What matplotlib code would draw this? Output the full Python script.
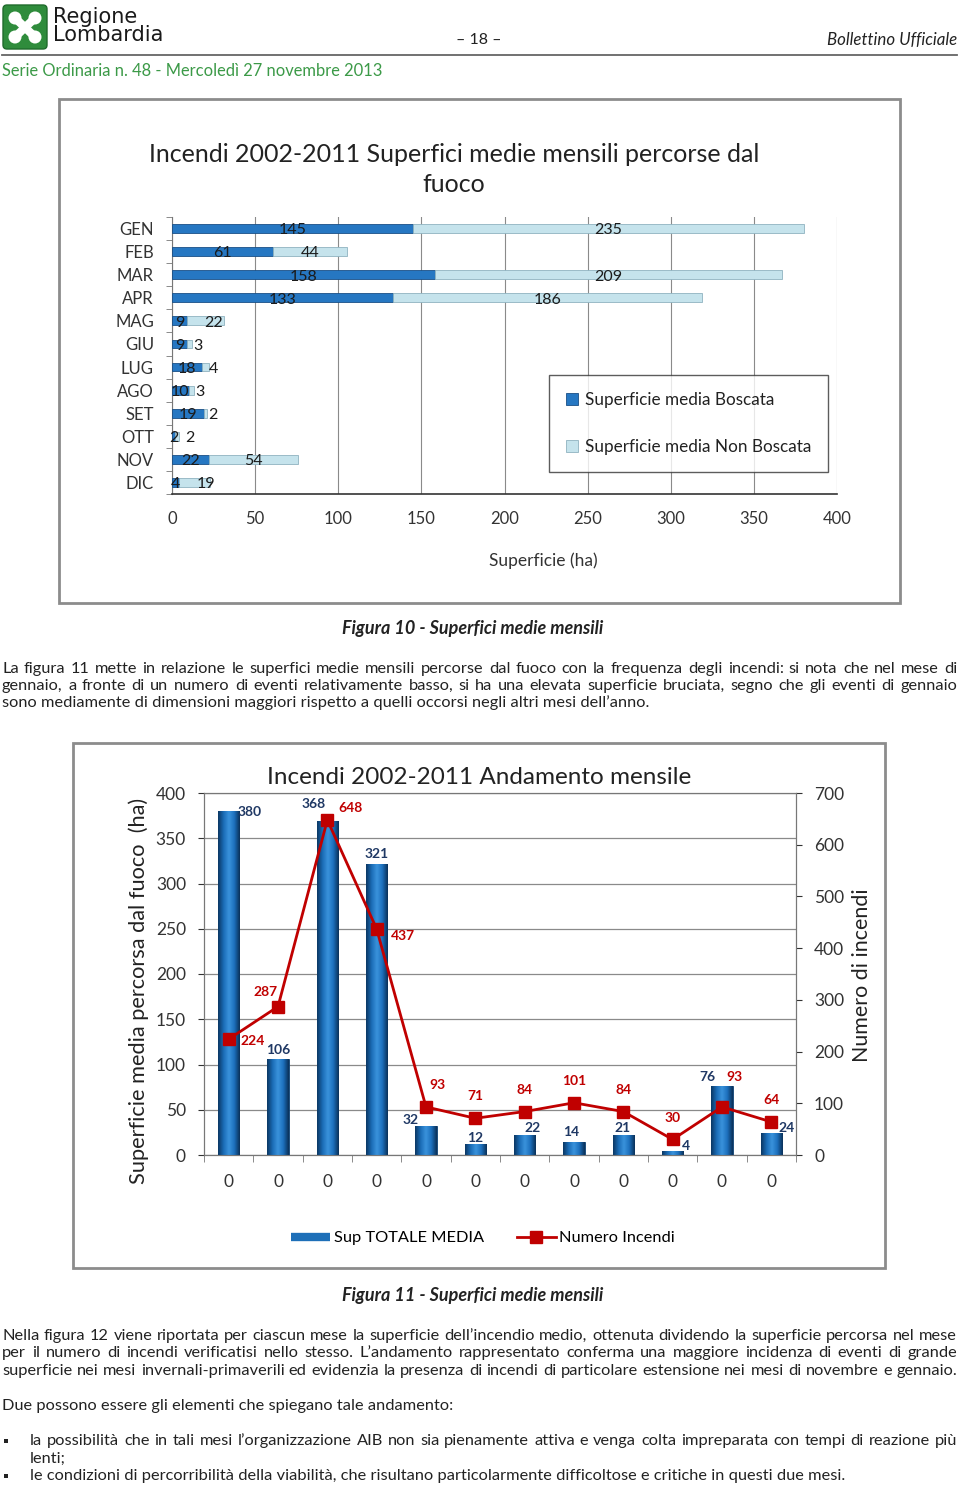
import matplotlib
matplotlib.use("Agg")
import matplotlib.pyplot as plt
import matplotlib.patches as mpatches
from matplotlib.lines import Line2D
from matplotlib.colors import LinearSegmentedColormap
import numpy as np

mesi = ["GEN", "FEB", "MAR", "APR", "MAG", "GIU", "LUG", "AGO", "SET", "OTT", "NOV", "DIC"]
sup_boscata = [145, 61, 158, 133, 9, 9, 18, 10, 19, 2, 22, 4]
sup_non_boscata = [235, 44, 209, 186, 22, 3, 4, 3, 2, 2, 54, 19]
sup_totale_media = [380, 106, 368, 321, 32, 12, 22, 14, 21, 4, 76, 24]
numero_incendi = [224, 287, 648, 437, 93, 71, 84, 101, 84, 30, 93, 64]
etichette_x_fig11 = ["0"] * 12
xticks_fig10 = list(range(0, 401, 50))
yticks_sup = list(range(0, 401, 50))
yticks_num = list(range(0, 701, 100))

W, H = 960, 1488
CHART_FONT = ["Lato", "DejaVu Sans"]
BODY_FONT = ["Lato", "DejaVu Sans"]
BODY_SIZE = 11.8
TXT = "#222222"
BLU = "#1D6FB8"
ROSSO = "#C00000"


def rect(x0, y0, x1, y1):
    return [x0 / W, 1 - y1 / H, (x1 - x0) / W, (y1 - y0) / H]


def fx(x):
    return x / W


def fy(y):
    return 1 - y / H


fig = plt.figure(figsize=(W / 100, H / 100), dpi=100)
fig.patch.set_facecolor("white")
renderer = fig.canvas.get_renderer()


def frame(x0, y0, x1, y1):
    fig.patches.append(mpatches.Rectangle((fx(x0), fy(y1)), (x1 - x0) / W, (y1 - y0) / H,
                                          transform=fig.transFigure, fill=False,
                                          ec="#8c8c8c", lw=2))


def justify(text, y, x0, x1, size=BODY_SIZE):
    words = text.split()
    objs = [fig.text(0, fy(y), w, fontsize=size, va="center", family=BODY_FONT, color=TXT)
            for w in words]
    widths = [o.get_window_extent(renderer).width for o in objs]
    gap = (x1 - x0 - sum(widths)) / (len(words) - 1)
    x = x0
    for o, w in zip(objs, widths):
        o.set_x(fx(x))
        x += w + gap


def plain(text, y, x0, size=BODY_SIZE, **kw):
    fig.text(fx(x0), fy(y), text, fontsize=size, va="center", family=BODY_FONT, color=TXT, **kw)


# --- intestazione ---
ax_logo = fig.add_axes(rect(2, 4, 48, 50))
ax_logo.set_xlim(0, 46)
ax_logo.set_ylim(46, 0)
ax_logo.axis("off")
ax_logo.add_patch(mpatches.FancyBboxPatch((1, 1), 44, 44, boxstyle="round,pad=0,rounding_size=4",
                                          fc="#2F8C3C", ec="#1f6b2b", lw=1))
for cx, cy in [(13, 14), (33, 14), (13, 33), (33, 33)]:
    ax_logo.add_patch(mpatches.Circle((cx, cy), 6.5, fc="white", ec="none"))
ax_logo.plot([13, 33], [14, 33], color="white", lw=6, solid_capstyle="round")
ax_logo.plot([33, 13], [14, 33], color="white", lw=6, solid_capstyle="round")
ax_logo.add_patch(mpatches.Circle((23, 23.5), 4, fc="#2F8C3C", ec="none"))

fig.text(fx(53), fy(17), "Regione", fontsize=15, va="center", color="#1a1a1a",
         family="DejaVu Sans", weight="medium")
fig.text(fx(53), fy(35), "Lombardia", fontsize=15, va="center", color="#1a1a1a",
         family="DejaVu Sans", weight="medium")
fig.text(fx(479), fy(40), "– 18 –", fontsize=11.5, ha="center", va="center", color=TXT, family=BODY_FONT)
fig.text(fx(957), fy(40), "Bollettino Ufficiale", fontsize=12.2, ha="right", va="center",
         style="italic", color=TXT, family=BODY_FONT)
fig.add_artist(Line2D([fx(2), fx(957)], [fy(55), fy(55)], color="#666666", lw=1.3))
fig.text(fx(2), fy(71), "Serie Ordinaria n. 48 - Mercoledì 27 novembre 2013", fontsize=11.9,
         va="center", color="#3C9A48", family=BODY_FONT)

# --- Figura 10 ---
frame(59, 99, 900, 603)
fig.text(fx(454), fy(155), "Incendi 2002-2011 Superfici medie mensili percorse dal",
         ha="center", va="center", fontsize=18, color=TXT, family=CHART_FONT)
fig.text(fx(454), fy(185), "fuoco",
         ha="center", va="center", fontsize=18, color=TXT, family=CHART_FONT)

ax1 = fig.add_axes(rect(172, 217, 837, 494))
y = np.arange(len(mesi))
ax1.barh(y, sup_boscata, height=0.38, color="#2677C2", edgecolor="#1a4f86", lw=0.6,
         label="Superficie media Boscata", zorder=3)
ax1.barh(y, sup_non_boscata, left=sup_boscata, height=0.38, color="#C5E3EC", edgecolor="#8fb3c0",
         lw=0.6, label="Superficie media Non Boscata", zorder=3)
# piccolo spostamento a destra delle etichette "Non Boscata" sui segmenti corti (px)
off_nb = [0, 0, 0, 0, 8, 8, 8, 9, 8, 13, 0, 12]
for i, (b, n) in enumerate(zip(sup_boscata, sup_non_boscata)):
    ax1.annotate(str(b), (b / 2, i + 0.08), ha="center", va="center", fontsize=11.5, color="#1b1b1b",
                 family=CHART_FONT, zorder=4)
    ax1.annotate(str(n), (b + n / 2, i + 0.08), xytext=(off_nb[i] * 0.72, 0), textcoords="offset points",
                 ha="center", va="center", fontsize=11.5, color="#1b1b1b", family=CHART_FONT, zorder=4)
ax1.set_xlim(0, 400)
ax1.set_ylim(11.5, -0.5)
ax1.set_xticks(xticks_fig10)
ax1.set_xticklabels([str(v) for v in xticks_fig10], family=CHART_FONT)
ax1.set_yticks(y)
ax1.set_yticklabels(mesi, family=CHART_FONT)
ax1.set_yticks(np.arange(-0.5, 12, 1), minor=True)
ax1.tick_params(axis="x", length=0, pad=12, labelsize=12, colors="#333333")
ax1.tick_params(axis="y", which="major", length=0, pad=13, labelsize=12, colors="#333333")
ax1.tick_params(axis="y", which="minor", length=4, color="#777777")
ax1.xaxis.grid(True, color="#8a8a8a", lw=0.8)
ax1.set_axisbelow(True)
for s in ["top", "right"]:
    ax1.spines[s].set_visible(False)
ax1.spines["left"].set_color("#777777")
ax1.spines["bottom"].set_color("#333333")
ax1.spines["bottom"].set_linewidth(1.2)
fig.text(fx(543), fy(561), "Superficie (ha)", ha="center", va="center", fontsize=12.5,
         color="#333333", family=CHART_FONT)
leg = ax1.legend(loc="upper left", bbox_to_anchor=(fx(549), fy(375)), bbox_transform=fig.transFigure,
                 frameon=True, fancybox=False, edgecolor="#333333", prop={"family": CHART_FONT, "size": 12.3},
                 labelspacing=1.8, handlelength=0.7, handleheight=0.7, borderpad=1.0, handletextpad=0.4,
                 borderaxespad=0)
leg.get_frame().set_linewidth(1)
for t in leg.get_texts():
    t.set_color(TXT)

fig.text(fx(473), fy(628), "Figura 10 - Superfici medie mensili", ha="center", va="center",
         fontsize=13, style="italic", weight="bold", color=TXT, family=BODY_FONT)

justify("La figura 11 mette in relazione le superfici medie mensili percorse dal fuoco con la "
        "frequenza degli incendi: si nota che nel mese di", 669, 2, 957)
justify("gennaio, a fronte di un numero di eventi relativamente basso, si ha una elevata superficie "
        "bruciata, segno che gli eventi di gennaio", 686, 2, 957)
plain("sono mediamente di dimensioni maggiori rispetto a quelli occorsi negli altri mesi dell’anno.", 703, 2)

# --- Figura 11 ---
frame(73, 743, 885, 1268)
fig.text(fx(479), fy(777), "Incendi 2002-2011 Andamento mensile", ha="center", va="center",
         fontsize=17.5, color=TXT, family=CHART_FONT)

ax2 = fig.add_axes(rect(204, 793, 796, 1155))
x = np.arange(len(mesi))
bw = 0.43
ax2.bar(x, sup_totale_media, width=bw, color=BLU, edgecolor="#0f3f6e", lw=0.6, zorder=3)
# effetto cilindro sulle colonne
cyl = LinearSegmentedColormap.from_list("cyl", ["#0b3763", "#1a6cb6", "#3a93dc", "#1c70bd", "#0a3058"])
grad = np.linspace(0, 1, 64).reshape(1, -1)
for xi, v in zip(x, sup_totale_media):
    ax2.imshow(grad, extent=[xi - bw / 2, xi + bw / 2, 0, v], aspect="auto", cmap=cyl,
               interpolation="bicubic", zorder=3.5)
ax2.set_xlim(-0.5, 11.5)
ax2.set_ylim(0, 400)
ax2.set_yticks(yticks_sup)
ax2.set_yticklabels([str(v) for v in yticks_sup], family=CHART_FONT)
ax2.set_xticks(x)
ax2.set_xticklabels(etichette_x_fig11, family=CHART_FONT)
ax2.set_xticks(np.arange(-0.5, 12, 1), minor=True)
ax2.tick_params(axis="x", which="major", length=0, pad=14, labelsize=12.5, colors="#333333")
ax2.tick_params(axis="x", which="minor", length=5, color="#777777")
ax2.tick_params(axis="y", length=4, pad=9, labelsize=12.5, colors="#333333")
ax2.yaxis.grid(True, color="#8a8a8a", lw=0.9)
ax2.set_axisbelow(True)
for s in ax2.spines.values():
    s.set_color("#777777")

ax2b = ax2.twinx()
ax2b.set_ylim(0, 700)
ax2b.set_yticks(yticks_num)
ax2b.set_yticklabels([str(v) for v in yticks_num], family=CHART_FONT)
ax2b.tick_params(axis="y", length=4, pad=9, labelsize=12.5, colors="#333333")
for s in ax2b.spines.values():
    s.set_color("#777777")
ax2b.plot(x, numero_incendi, color=ROSSO, lw=2, marker="s", ms=8, zorder=5)

# spostamenti delle etichette in pixel (dx, dy verso l'alto)
off_blu = [(21, -1), (0, 9), (-14, 18), (0, 10), (-15, 6), (0, 6), (8, 7), (-3, 10), (-1, 8),
           (13, 5), (-15, 9), (15, 5)]
off_rosso = [(24, -2), (-12, 15), (23, 12), (26, -7), (11, 22), (0, 22), (0, 22), (0, 22),
             (0, 22), (0, 21), (12, 30), (0, 22)]
for i, v in enumerate(sup_totale_media):
    dx, dy = off_blu[i]
    ax2b.annotate(str(v), (i, v * 700 / 400), xytext=(dx * 0.72, dy * 0.72), textcoords="offset points",
                  ha="center", va="center", fontsize=10, weight="bold", color="#1F3864",
                  family=CHART_FONT, zorder=6)
for i, v in enumerate(numero_incendi):
    dx, dy = off_rosso[i]
    ax2b.annotate(str(v), (i, v), xytext=(dx * 0.72, dy * 0.72), textcoords="offset points",
                  ha="center", va="center", fontsize=10, weight="bold", color=ROSSO,
                  family=CHART_FONT, zorder=6)

fig.text(fx(139), fy(991), "Superficie media percorsa dal fuoco  (ha)", rotation=90, ha="center",
         va="center", fontsize=15.7, color=TXT, family=CHART_FONT)
fig.text(fx(862), fy(975), "Numero di incendi", rotation=90, ha="center", va="center",
         fontsize=15.4, color=TXT, family=CHART_FONT)

handles = [Line2D([], [], color=BLU, lw=6, solid_capstyle="butt"),
           Line2D([], [], color=ROSSO, lw=2, marker="s", ms=8)]
fig.legend(handles, ["Sup TOTALE MEDIA", "Numero Incendi"], loc="center",
           bbox_to_anchor=(fx(483), fy(1238)), bbox_transform=fig.transFigure, ncol=2,
           frameon=False, prop={"family": CHART_FONT, "size": 11.8}, handlelength=2.4,
           columnspacing=2.0, handletextpad=0.2)

fig.text(fx(473), fy(1295), "Figura 11 - Superfici medie mensili", ha="center", va="center",
         fontsize=13, style="italic", weight="bold", color=TXT, family=BODY_FONT)

justify("Nella figura 12 viene riportata per ciascun mese la superficie dell’incendio medio, ottenuta "
        "dividendo la superficie percorsa nel mese", 1336, 2, 957)
justify("per il numero di incendi verificatisi nello stesso. L’andamento rappresentato conferma una "
        "maggiore incidenza di eventi di grande", 1353, 2, 957)
justify("superficie nei mesi invernali-primaverili ed evidenzia la presenza di incendi di particolare "
        "estensione nei mesi di novembre e gennaio.", 1371, 2, 957)
plain("Due possono essere gli elementi che spiegano tale andamento:", 1406, 2)

for yy in (1441, 1476):
    fig.patches.append(mpatches.Rectangle((fx(4), fy(yy + 2)), 4 / W, 4 / H, transform=fig.transFigure,
                                          fc=TXT, ec="none"))
justify("la possibilità che in tali mesi l’organizzazione AIB non sia pienamente attiva e venga colta "
        "impreparata con tempi di reazione più", 1441, 30, 957)
plain("lenti;", 1459, 30)
plain("le condizioni di percorribilità della viabilità, che risultano particolarmente difficoltose e "
      "critiche in questi due mesi.", 1476, 30)

fig.savefig("out.png", dpi=100)
